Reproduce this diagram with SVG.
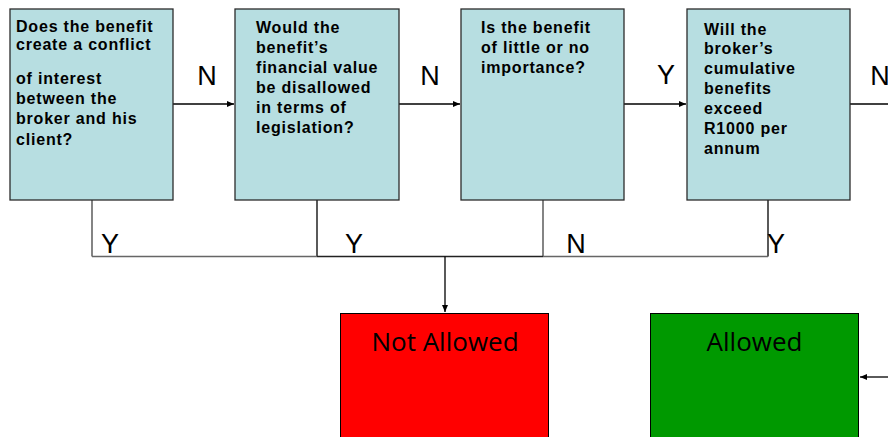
<svg xmlns="http://www.w3.org/2000/svg" width="888" height="437" viewBox="0 0 888 437">
<style>
.q{fill:#B7DEE1;stroke:#2b2b2b;stroke-width:1.3}
.qt{font-family:"Liberation Sans",Arial,sans-serif;font-weight:bold;font-size:16px;letter-spacing:0.8px;fill:#000}
.lbl{font-family:"Liberation Sans",Arial,sans-serif;font-size:27px;fill:#000}
.res{font-family:"Open Sans","Noto Sans",sans-serif;font-size:26px;fill:#000}
.c{fill:none;stroke:#000;stroke-width:1.3}
.g{fill:none;stroke:#666;stroke-width:1.6}
</style>
<defs>
<marker id="ah" markerWidth="8" markerHeight="8" refX="7" refY="4" orient="auto" markerUnits="userSpaceOnUse">
<path d="M0,1 L7,4 L0,7 z" fill="#000"/>
</marker>
</defs>
<rect width="888" height="437" fill="#fff"/>
<g id="connectors">
<line class="c" x1="173" y1="104" x2="234" y2="104" marker-end="url(#ah)"/>
<line class="c" x1="399" y1="104" x2="460" y2="104" marker-end="url(#ah)"/>
<line class="c" x1="624" y1="104" x2="686" y2="104" marker-end="url(#ah)"/>
<line class="c" x1="850" y1="104" x2="888" y2="104"/>
<line class="g" x1="92" y1="200" x2="92" y2="256.5"/>
<line class="c" x1="317" y1="200" x2="317" y2="256.5"/>
<line class="g" x1="543" y1="200" x2="543" y2="256.5"/>
<line class="c" x1="768" y1="200" x2="768" y2="256.5"/>
<line class="g" x1="92" y1="256.5" x2="317" y2="256.5"/>
<line class="c" x1="317" y1="256.5" x2="543" y2="256.5" style="stroke:#222;stroke-width:1.6"/>
<line class="g" x1="543" y1="256.5" x2="768" y2="256.5"/>
<line class="c" x1="445" y1="256.5" x2="445" y2="312" marker-end="url(#ah)"/>
<line class="c" x1="888" y1="377" x2="860" y2="377" marker-end="url(#ah)"/>
<text class="lbl" x="207" y="85" text-anchor="middle">N</text>
<text class="lbl" x="430" y="85" text-anchor="middle">N</text>
<text class="lbl" x="666" y="84" text-anchor="middle">Y</text>
<text class="lbl" x="880" y="85" text-anchor="middle">N</text>
<text class="lbl" x="110" y="253" text-anchor="middle">Y</text>
<text class="lbl" x="354" y="253" text-anchor="middle">Y</text>
<text class="lbl" x="576" y="253" text-anchor="middle">N</text>
<text class="lbl" x="776" y="253" text-anchor="middle">Y</text>
</g>
<g id="q1">
<rect class="q" x="10" y="9" width="163" height="191"/>
<text class="qt"><tspan x="16" y="32">Does the benefit</tspan><tspan x="16" y="50">create a conflict</tspan><tspan x="16" y="84">of interest</tspan><tspan x="16" y="104">between the</tspan><tspan x="16" y="124">broker and his</tspan><tspan x="16" y="145">client?</tspan></text>
</g>
<g id="q2">
<rect class="q" x="235" y="9" width="164" height="191"/>
<text class="qt"><tspan x="256" y="33">Would the</tspan><tspan x="256" y="53">benefit’s</tspan><tspan x="256" y="73">financial value</tspan><tspan x="256" y="93">be disallowed</tspan><tspan x="256" y="113">in terms of</tspan><tspan x="256" y="133">legislation?</tspan></text>
</g>
<g id="q3">
<rect class="q" x="461" y="9" width="163" height="191"/>
<text class="qt"><tspan x="481" y="33">Is the benefit</tspan><tspan x="481" y="53">of little or no</tspan><tspan x="481" y="73">importance?</tspan></text>
</g>
<g id="q4">
<rect class="q" x="687" y="9" width="163" height="191"/>
<text class="qt"><tspan x="704" y="35">Will the</tspan><tspan x="704" y="54">broker’s</tspan><tspan x="704" y="74">cumulative</tspan><tspan x="704" y="94">benefits</tspan><tspan x="704" y="114">exceed</tspan><tspan x="704" y="134">R1000 per</tspan><tspan x="704" y="154">annum</tspan></text>
</g>
<g id="notallowed">
<rect x="340.5" y="313.5" width="208" height="130" fill="#FF0000" stroke="#000" stroke-width="1"/>
<text class="res" x="445" y="351" text-anchor="middle">Not Allowed</text>
</g>
<g id="allowed">
<rect x="650.5" y="313.5" width="208" height="130" fill="#009900" stroke="#000" stroke-width="1"/>
<text class="res" x="754.5" y="351" text-anchor="middle">Allowed</text>
</g>
</svg>
